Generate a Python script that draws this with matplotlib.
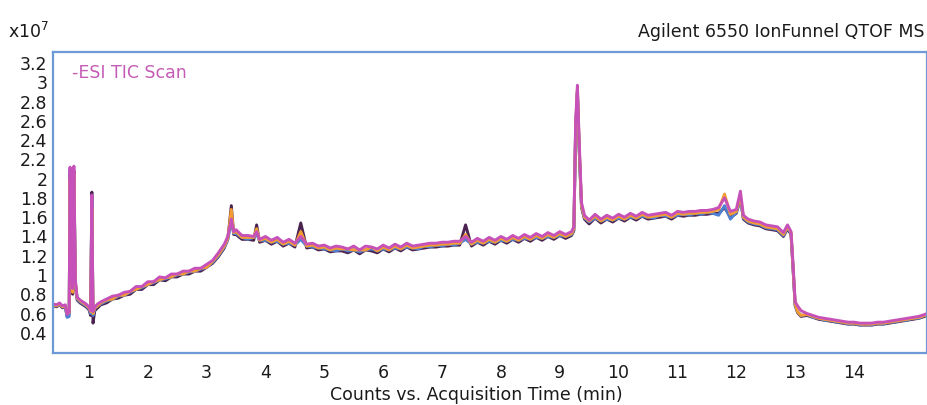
import numpy as np
import matplotlib
matplotlib.use('Agg')
import matplotlib.pyplot as plt

# acquisition time (min), denser around the spikes
time_min = [
    0.39, 0.45, 0.50, 0.55, 0.60, 0.63, 0.665, 0.68, 0.70, 0.725, 0.745, 0.77, 0.80, 0.85, 0.90, 0.95, 1.00, 1.03, 1.05, 1.07, 1.10, 1.15, 1.20,
    1.3, 1.4, 1.5, 1.6, 1.7, 1.8, 1.9, 2.0, 2.1, 2.2, 2.3, 2.4, 2.5, 2.6, 2.7, 2.8, 2.9, 3.0, 3.1, 3.2, 3.3,
    3.36, 3.42, 3.46, 3.5, 3.6, 3.7, 3.8, 3.85, 3.9, 4.0,
    4.1, 4.2, 4.3, 4.4, 4.5, 4.6, 4.7, 4.8, 4.9, 5.0,
    5.1, 5.2, 5.3, 5.4, 5.5, 5.6, 5.7, 5.8, 5.9, 6.0,
    6.1, 6.2, 6.3, 6.4, 6.5, 6.6, 6.7, 6.8, 6.9, 7.0,
    7.1, 7.2, 7.3, 7.4, 7.5, 7.6, 7.7, 7.8, 7.9, 8.0,
    8.1, 8.2, 8.3, 8.4, 8.5, 8.6, 8.7, 8.8, 8.9, 9.0, 9.1, 9.2,
    9.24, 9.27, 9.30, 9.33, 9.37, 9.42, 9.5, 9.6, 9.7, 9.8, 9.9, 10.0,
    10.1, 10.2, 10.3, 10.4, 10.5, 10.6, 10.7, 10.8, 10.9, 11.0,
    11.1, 11.2, 11.3, 11.4, 11.5, 11.6, 11.7, 11.8, 11.9, 12.0,
    12.07, 12.12, 12.2, 12.3, 12.4, 12.5, 12.6, 12.7, 12.8, 12.87, 12.93, 12.97, 13.0, 13.04, 13.1, 13.2,
    13.3, 13.4, 13.5, 13.6, 13.7, 13.8, 13.9, 14.0, 14.1, 14.2,
    14.3, 14.4, 14.5, 14.6, 14.7, 14.8, 14.9, 15.0, 15.1, 15.2, 15.24,
]

# counts (x10^7), one list per overlaid run
tic_dark = [
    0.68, 0.67, 0.69, 0.66, 0.67, 0.57, 0.60, 2.05, 1.05, 0.80, 2.08, 0.90, 0.74, 0.71, 0.69, 0.67, 0.64, 0.58, 1.86, 0.50, 0.63, 0.66, 0.69,
    0.71, 0.75, 0.76, 0.79, 0.80, 0.85, 0.85, 0.90, 0.90, 0.95, 0.94, 0.98, 0.98, 1.01, 1.01, 1.04, 1.04, 1.08, 1.12, 1.19, 1.28,
    1.37, 1.72, 1.42, 1.42, 1.37, 1.37, 1.36, 1.52, 1.34, 1.36,
    1.32, 1.35, 1.30, 1.33, 1.29, 1.54, 1.28, 1.29, 1.26, 1.27,
    1.24, 1.25, 1.25, 1.23, 1.26, 1.22, 1.26, 1.25, 1.23, 1.27,
    1.24, 1.28, 1.25, 1.29, 1.26, 1.27, 1.28, 1.29, 1.29, 1.30,
    1.30, 1.31, 1.31, 1.52, 1.30, 1.34, 1.31, 1.35, 1.32, 1.36,
    1.33, 1.37, 1.34, 1.38, 1.35, 1.39, 1.36, 1.40, 1.37, 1.41, 1.38, 1.41,
    1.46, 2.50, 2.90, 2.30, 1.70, 1.58, 1.53, 1.59, 1.54, 1.58, 1.55, 1.59,
    1.56, 1.60, 1.57, 1.61, 1.58, 1.59, 1.60, 1.61, 1.58, 1.62,
    1.61, 1.62, 1.62, 1.63, 1.63, 1.64, 1.64, 1.70, 1.60, 1.64,
    1.80, 1.58, 1.54, 1.52, 1.51, 1.48, 1.47, 1.46, 1.40, 1.48, 1.42, 1.00, 0.68, 0.61, 0.57, 0.58,
    0.56, 0.54, 0.53, 0.52, 0.51, 0.50, 0.49, 0.49, 0.48, 0.48,
    0.48, 0.49, 0.49, 0.50, 0.51, 0.52, 0.53, 0.54, 0.55, 0.57, 0.58,
]

tic_blue = [
    0.68, 0.68, 0.69, 0.67, 0.66, 0.56, 0.57, 2.10, 1.20, 0.84, 2.00, 0.93, 0.75, 0.72, 0.70, 0.68, 0.65, 0.60, 1.75, 0.58, 0.65, 0.68, 0.70,
    0.73, 0.75, 0.78, 0.79, 0.82, 0.85, 0.87, 0.90, 0.92, 0.95, 0.96, 0.98, 1.00, 1.01, 1.03, 1.04, 1.06, 1.08, 1.13, 1.20, 1.29,
    1.37, 1.55, 1.43, 1.43, 1.39, 1.37, 1.39, 1.42, 1.36, 1.36,
    1.34, 1.35, 1.32, 1.33, 1.31, 1.37, 1.30, 1.29, 1.28, 1.27,
    1.26, 1.25, 1.27, 1.25, 1.26, 1.24, 1.26, 1.27, 1.25, 1.27,
    1.26, 1.28, 1.27, 1.29, 1.28, 1.27, 1.30, 1.29, 1.31, 1.30,
    1.32, 1.31, 1.33, 1.37, 1.32, 1.34, 1.33, 1.35, 1.34, 1.36,
    1.35, 1.37, 1.36, 1.38, 1.37, 1.39, 1.38, 1.40, 1.39, 1.41, 1.40, 1.42,
    1.47, 2.52, 2.92, 2.32, 1.71, 1.59, 1.55, 1.59, 1.56, 1.58, 1.57, 1.59,
    1.58, 1.60, 1.59, 1.61, 1.60, 1.59, 1.62, 1.61, 1.60, 1.62,
    1.63, 1.62, 1.64, 1.63, 1.65, 1.64, 1.62, 1.72, 1.58, 1.65,
    1.78, 1.59, 1.55, 1.53, 1.52, 1.49, 1.48, 1.47, 1.41, 1.49, 1.43, 1.01, 0.69, 0.62, 0.58, 0.59,
    0.56, 0.55, 0.53, 0.53, 0.51, 0.51, 0.49, 0.50, 0.48, 0.49,
    0.48, 0.50, 0.49, 0.51, 0.51, 0.53, 0.53, 0.55, 0.55, 0.58, 0.58,
]

tic_orange = [
    0.69, 0.68, 0.70, 0.67, 0.68, 0.60, 0.61, 2.00, 1.00, 0.82, 2.05, 0.92, 0.76, 0.73, 0.71, 0.69, 0.66, 0.62, 1.70, 0.60, 0.66, 0.68, 0.71,
    0.74, 0.75, 0.79, 0.79, 0.83, 0.85, 0.88, 0.90, 0.93, 0.95, 0.97, 0.98, 1.01, 1.01, 1.04, 1.04, 1.07, 1.08, 1.14, 1.21, 1.30,
    1.38, 1.68, 1.44, 1.45, 1.39, 1.39, 1.39, 1.48, 1.36, 1.38,
    1.34, 1.37, 1.32, 1.35, 1.31, 1.45, 1.30, 1.31, 1.28, 1.29,
    1.26, 1.28, 1.27, 1.27, 1.26, 1.26, 1.26, 1.29, 1.25, 1.29,
    1.26, 1.30, 1.27, 1.31, 1.28, 1.29, 1.30, 1.31, 1.31, 1.32,
    1.32, 1.33, 1.33, 1.42, 1.32, 1.36, 1.33, 1.37, 1.34, 1.38,
    1.35, 1.39, 1.36, 1.40, 1.37, 1.41, 1.38, 1.42, 1.39, 1.43, 1.40, 1.43,
    1.48, 2.55, 2.93, 2.35, 1.72, 1.60, 1.56, 1.61, 1.56, 1.60, 1.57, 1.61,
    1.58, 1.62, 1.59, 1.63, 1.60, 1.61, 1.62, 1.63, 1.60, 1.64,
    1.63, 1.64, 1.64, 1.65, 1.65, 1.66, 1.68, 1.84, 1.63, 1.66,
    1.82, 1.60, 1.56, 1.54, 1.53, 1.50, 1.49, 1.48, 1.42, 1.50, 1.44, 1.02, 0.70, 0.62, 0.58, 0.59,
    0.57, 0.55, 0.54, 0.53, 0.52, 0.51, 0.50, 0.50, 0.49, 0.49,
    0.49, 0.50, 0.50, 0.51, 0.52, 0.53, 0.54, 0.55, 0.56, 0.58, 0.59,
]

tic_magenta = [
    0.70, 0.69, 0.71, 0.68, 0.69, 0.59, 0.62, 2.12, 1.10, 0.86, 2.13, 0.95, 0.77, 0.74, 0.72, 0.70, 0.67, 0.63, 1.83, 0.62, 0.67, 0.70, 0.72,
    0.75, 0.78, 0.79, 0.82, 0.83, 0.88, 0.88, 0.93, 0.93, 0.98, 0.97, 1.01, 1.01, 1.04, 1.04, 1.07, 1.07, 1.11, 1.15, 1.23, 1.32,
    1.40, 1.58, 1.45, 1.47, 1.41, 1.41, 1.40, 1.45, 1.37, 1.40,
    1.36, 1.39, 1.34, 1.37, 1.33, 1.40, 1.32, 1.33, 1.30, 1.31,
    1.28, 1.30, 1.29, 1.27, 1.30, 1.26, 1.30, 1.29, 1.27, 1.31,
    1.28, 1.32, 1.29, 1.33, 1.30, 1.31, 1.32, 1.33, 1.33, 1.34,
    1.34, 1.35, 1.35, 1.40, 1.34, 1.38, 1.35, 1.39, 1.36, 1.40,
    1.37, 1.41, 1.38, 1.42, 1.39, 1.43, 1.40, 1.44, 1.41, 1.45, 1.42, 1.45,
    1.50, 2.60, 2.97, 2.40, 1.75, 1.62, 1.57, 1.63, 1.58, 1.62, 1.59, 1.63,
    1.60, 1.64, 1.61, 1.65, 1.62, 1.63, 1.64, 1.65, 1.62, 1.66,
    1.65, 1.66, 1.66, 1.67, 1.67, 1.68, 1.70, 1.80, 1.66, 1.68,
    1.87, 1.62, 1.58, 1.56, 1.55, 1.52, 1.51, 1.50, 1.44, 1.52, 1.45, 1.05, 0.72, 0.68, 0.63, 0.60,
    0.58, 0.56, 0.55, 0.54, 0.53, 0.52, 0.51, 0.51, 0.50, 0.50,
    0.50, 0.51, 0.51, 0.52, 0.53, 0.54, 0.55, 0.56, 0.57, 0.59, 0.60,
]

x_ticks = list(range(1, 15))
y_ticks = [0.4, 0.6, 0.8, 1, 1.2, 1.4, 1.6, 1.8, 2, 2.2, 2.4, 2.6, 2.8, 3, 3.2]

runs = [
    (tic_dark, '#4a2350'),
    (tic_blue, '#4f7fd0'),
    (tic_orange, '#f39c32'),
    (tic_magenta, '#c651b8'),
]


def plot_tic():
    plt.rcParams['font.family'] = ['DejaVu Sans']
    fig = plt.figure(figsize=(9.28, 4.05), dpi=100)
    ax = fig.add_axes([53 / 928, 1 - 353 / 405, 874 / 928, 301 / 405])

    t = np.array(time_min)
    for values, color in runs:
        ax.plot(t, values, color=color, lw=2.1, solid_joinstyle='round')

    ax.set_xlim(0.39, 15.24)
    ax.set_ylim(0.19, 3.315)
    ax.set_xticks(x_ticks)
    ax.set_xticklabels([str(v) for v in x_ticks])
    ax.set_yticks(y_ticks)
    ax.set_yticklabels([f'{v:g}' for v in y_ticks])
    ax.tick_params(axis='both', length=0, labelsize=12.5, colors='#1a1a1a')
    ax.tick_params(axis='x', pad=8)
    ax.tick_params(axis='y', pad=4)

    for side in ax.spines.values():
        side.set_color('#6d9ad6')
        side.set_linewidth(1.6)

    ax.text(0.022, 0.915, '-ESI TIC Scan', transform=ax.transAxes,
            color='#c45bb5', fontsize=12.5, va='baseline')
    fig.text(925 / 928, 1 - 37 / 405, 'Agilent 6550 IonFunnel QTOF MS',
             ha='right', va='baseline', fontsize=12.5, color='#1a1a1a')
    fig.text(8 / 928, 1 - 38 / 405, r'x10$^7$', ha='left', va='baseline',
             fontsize=12.5, color='#1a1a1a')
    fig.text(476 / 928, 1 - 400 / 405, 'Counts vs. Acquisition Time (min)',
             ha='center', va='baseline', fontsize=12.5, color='#1a1a1a')

    fig.savefig('out.png', dpi=100)


def main():
    plot_tic()


if __name__ == '__main__':
    main()
